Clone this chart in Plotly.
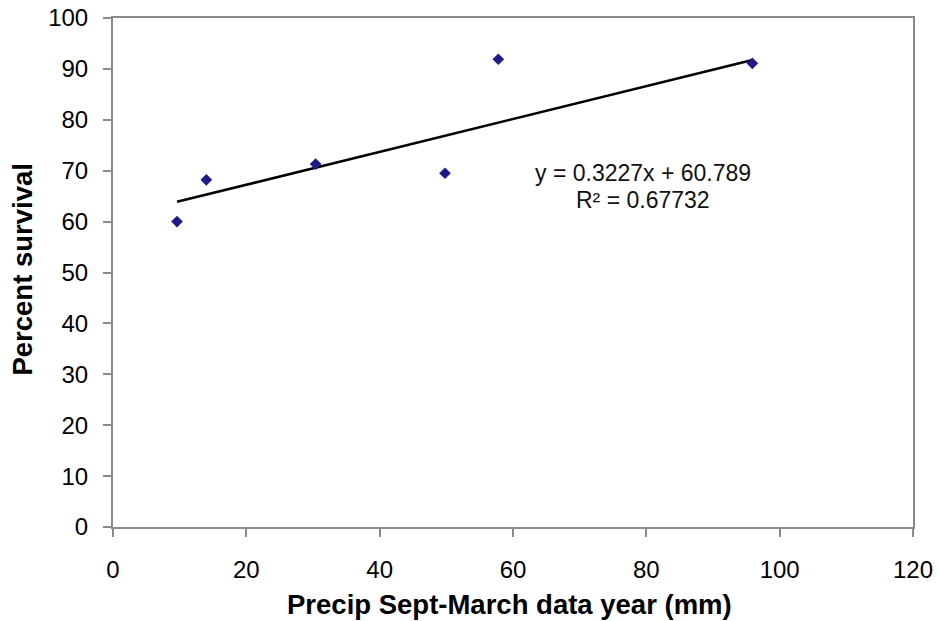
import plotly.graph_objects as go

# Observations: winter precipitation vs. survival
precip_mm = [9.6, 14.0, 30.4, 49.8, 57.8, 95.9]
survival_pct = [60.0, 68.2, 71.3, 69.5, 91.9, 91.1]

# Linear trendline as reported
slope = 0.3227
intercept = 60.789
r_squared = 0.67732

x_ticks = [0, 20, 40, 60, 80, 100, 120]
y_ticks = [0, 10, 20, 30, 40, 50, 60, 70, 80, 90, 100]

FONT = "Liberation Sans, Arial, sans-serif"

x_line = [min(precip_mm), max(precip_mm)]
y_line = [slope * v + intercept for v in x_line]

fig = go.Figure()
fig.add_trace(go.Scatter(
    x=x_line, y=y_line, mode="lines",
    line=dict(color="#000000", width=2.6),
    hoverinfo="skip", showlegend=False,
))
fig.add_trace(go.Scatter(
    x=precip_mm, y=survival_pct, mode="markers",
    marker=dict(symbol="diamond", size=9, color="#1f1a8c"),
    showlegend=False,
))

# Trendline equation and fit statistic
fig.add_annotation(
    x=0.663, y=0.695, xref="paper", yref="paper", yanchor="middle",
    text=f"y = {slope}x + {intercept}",
    showarrow=False, font=dict(family=FONT, size=23, color="#111111"),
)
fig.add_annotation(
    x=0.663, y=0.642, xref="paper", yref="paper", yanchor="middle",
    text=f"R² = {r_squared}",
    showarrow=False, font=dict(family=FONT, size=23, color="#111111"),
)

# Axis titles
fig.add_annotation(
    x=0.496, y=-0.153, xref="paper", yref="paper", yanchor="middle",
    text="<b>Precip Sept-March data year (mm)</b>",
    showarrow=False, font=dict(family=FONT, size=27.5, color="#000000"),
)
fig.add_annotation(
    x=-0.113, y=0.505, xref="paper", yref="paper", xanchor="center",
    text="<b>Percent survival</b>", textangle=-90,
    showarrow=False, font=dict(family=FONT, size=27.5, color="#000000"),
)

fig.update_xaxes(
    range=[0, 120], tickvals=x_ticks, ticktext=[str(v) for v in x_ticks],
    showgrid=False, zeroline=False, automargin=False,
    showline=True, linecolor="#8a8a8a", linewidth=2, mirror=True,
    ticks="outside", ticklen=8, tickcolor="#8a8a8a", tickwidth=1.5,
    ticklabelstandoff=12,
    tickfont=dict(family=FONT, size=24, color="#000000"),
)
fig.update_yaxes(
    range=[0, 100], tickvals=y_ticks, ticktext=[str(v) for v in y_ticks],
    showgrid=False, zeroline=False, automargin=False,
    showline=True, linecolor="#8a8a8a", linewidth=2, mirror=True,
    ticks="outside", ticklen=8, tickcolor="#8a8a8a", tickwidth=1.5,
    ticklabelstandoff=10,
    tickfont=dict(family=FONT, size=24, color="#000000"),
)

fig.update_layout(
    width=939, height=621,
    margin=dict(l=113, r=26, t=18, b=94),
    paper_bgcolor="#ffffff", plot_bgcolor="#ffffff",
)

fig.write_html("out.html")
